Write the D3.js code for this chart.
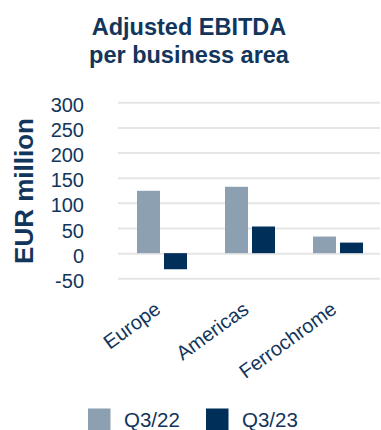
<!DOCTYPE html>
<html>
<head>
<meta charset="utf-8">
<script src="https://cdn.jsdelivr.net/npm/d3@7"></script>
<style>
html,body{margin:0;padding:0;background:#fff;}
svg{display:block;font-family:"Liberation Sans",Arial,sans-serif;}
</style>
</head>
<body>
<svg id="chart" width="381" height="430"></svg>
<script>
const categories = ["Europe", "Americas", "Ferrochrome"];
const seriesNames = ["Q3/22", "Q3/23"];
const q322 = [124, 132, 33];
const q323 = [-32, 53, 21];
const yTicks = [-50, 0, 50, 100, 150, 200, 250, 300];
const titleLines = ["Adjusted EBITDA", "per business area"];
const yLabel = "EUR million";

const colors = {"Q3/22": "#8DA0B2", "Q3/23": "#00305A"};
const textColor = "#12355B";

const svg = d3.select("#chart");

const x0 = d3.scaleBand().domain(categories).range([118, 382]).padding(0);
const x1 = d3.scaleBand().domain(seriesNames).range([19, 69]).paddingInner(4/27).paddingOuter(0);
const y = d3.scaleLinear().domain([-50, 300]).range([278.3, 102.3]);

// title
svg.append("g").selectAll("text").data(titleLines).join("text")
  .attr("x", 189).attr("y", (d, i) => 35 + i * 28)
  .attr("text-anchor", "middle")
  .attr("font-size", "23.5px").attr("font-weight", "bold")
  .attr("fill", textColor).text(d => d);

// grid
const grid = svg.append("g")
  .attr("transform", "translate(118,0)")
  .call(d3.axisRight(y).tickValues(yTicks).tickSize(262).tickFormat(""));
grid.select(".domain").remove();
grid.selectAll("line").attr("stroke", "#E5E5E5").attr("stroke-width", 2);

// y tick labels
const yAxis = svg.append("g")
  .attr("transform", "translate(84,0)")
  .call(d3.axisLeft(y).tickValues(yTicks).tickSize(0).tickPadding(0).tickFormat(d => String(d)));
yAxis.select(".domain").remove();
yAxis.selectAll("text")
  .attr("font-size", "20px").attr("fill", textColor)
  .attr("font-family", "Liberation Sans, Arial, sans-serif")
  .attr("dy", "0.45em");

// y label
svg.append("text")
  .attr("transform", "translate(33,191) rotate(-90)")
  .attr("text-anchor", "middle")
  .attr("font-size", "26px").attr("font-weight", "bold")
  .attr("fill", textColor).text(yLabel);

// bars
const data = categories.map((c, i) => ({cat: c, values: [
  {s: "Q3/22", v: q322[i]}, {s: "Q3/23", v: q323[i]}]}));

const groups = svg.append("g").selectAll("g").data(data).join("g")
  .attr("transform", d => `translate(${x0(d.cat)},0)`);
groups.selectAll("rect").data(d => d.values).join("rect")
  .attr("x", d => x1(d.s))
  .attr("width", x1.bandwidth())
  .attr("y", d => y(Math.max(0, d.v)))
  .attr("height", d => Math.abs(y(d.v) - y(0)))
  .attr("fill", d => colors[d.s]);

// category labels
const xAxis = svg.append("g")
  .attr("transform", "translate(0,312)")
  .call(d3.axisBottom(x0).tickSize(0).tickPadding(0));
xAxis.select(".domain").remove();
xAxis.selectAll("text")
  .attr("font-size", "20px").attr("fill", textColor)
  .attr("font-family", "Liberation Sans, Arial, sans-serif")
  .attr("text-anchor", "end")
  .attr("dy", "0")
  .attr("y", 0)
  .attr("transform", "rotate(-36)");

// legend
const legend = svg.append("g");
const legX = [88, 206];
seriesNames.forEach((s, i) => {
  legend.append("rect").attr("x", legX[i]).attr("y", 408.5).attr("width", 22.5).attr("height", 21.5)
    .attr("fill", colors[s]);
  legend.append("text").attr("x", legX[i] + 36).attr("y", 426.5)
    .attr("font-size", "20.5px").attr("fill", textColor).text(s);
});
</script>
</body>
</html>
